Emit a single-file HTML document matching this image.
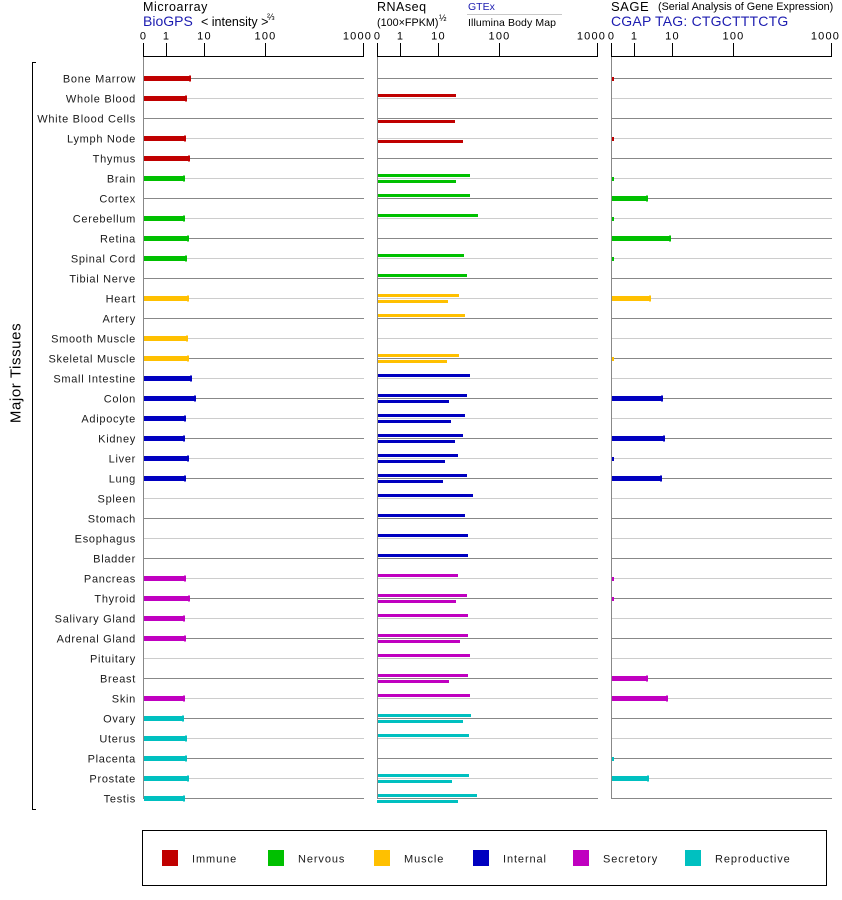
<!DOCTYPE html>
<html><head><meta charset="utf-8"><style>
html,body{margin:0;padding:0;background:#fff;}
svg{display:block;}
text{font-family:"Liberation Sans",Arial,sans-serif;}
.lab{font-size:11px;letter-spacing:0.7px;fill:#1a1a1a;}
.lg{font-size:11px;letter-spacing:0.9px;fill:#1a1a1a;}
.tk{font-size:11px;letter-spacing:1.2px;fill:#000;}
</style></head><body>
<svg width="842" height="900" viewBox="0 0 842 900" xmlns="http://www.w3.org/2000/svg">
<rect width="842" height="900" fill="#fff"/>
<!-- Headers -->
<text x="143" y="11" font-size="12.5" letter-spacing="0.6">Microarray</text>
<text x="143" y="26" font-size="14" fill="#1c1cb0">BioGPS</text>
<text x="201" y="26" font-size="12.5">&lt; intensity &gt;</text>
<text x="267" y="20" font-size="9">⅔</text>

<text x="377" y="11" font-size="12.5" letter-spacing="0.5">RNAseq</text>
<text x="377" y="26" font-size="10.8">(100×FPKM)</text>
<text x="439" y="21" font-size="9">½</text>
<text x="468" y="10" font-size="10.5" fill="#1c1cb0">GTEx</text>
<line x1="467" y1="14.5" x2="562" y2="14.5" stroke="#c8c8c8" stroke-width="1"/>
<text x="468" y="26" font-size="10.5" letter-spacing="0.1">Illumina Body Map</text>

<text x="611" y="11" font-size="13" letter-spacing="0.5">SAGE</text>
<text x="658" y="10" font-size="10.8">(Serial Analysis of Gene Expression)</text>
<text x="611" y="26" font-size="14" fill="#1c1cb0" letter-spacing="0.2">CGAP TAG: CTGCTTTCTG</text>

<!-- Y label and bracket -->
<text transform="translate(20.5,373) rotate(-90)" text-anchor="middle" font-size="15" letter-spacing="0.6">Major Tissues</text>
<path d="M36 62.5 H32.5 V809.5 H36" fill="none" stroke="#000" stroke-width="1"/>

<g id="content"></g>

<!-- Legend -->
<rect x="142.5" y="830.5" width="684" height="55" fill="none" stroke="#000" stroke-width="1"/>
<rect x="162" y="850" width="16" height="16" fill="#c00000"/>
<text x="192" y="862.5" class="lg">Immune</text>
<rect x="268" y="850" width="16" height="16" fill="#00c000"/>
<text x="298" y="862.5" class="lg">Nervous</text>
<rect x="374" y="850" width="16" height="16" fill="#ffc000"/>
<text x="404" y="862.5" class="lg">Muscle</text>
<rect x="473" y="850" width="16" height="16" fill="#0000c0"/>
<text x="503" y="862.5" class="lg">Internal</text>
<rect x="573" y="850" width="16" height="16" fill="#c000c0"/>
<text x="603" y="862.5" class="lg">Secretory</text>
<rect x="685" y="850" width="16" height="16" fill="#00c0c0"/>
<text x="715" y="862.5" class="lg">Reproductive</text>
</svg>
<script>
(function(){
var NS="http://www.w3.org/2000/svg";
var g=document.getElementById("content");
function el(n,a,t){var e=document.createElementNS(NS,n);for(var k in a)e.setAttribute(k,a[k]);if(t!=null)e.textContent=t;g.appendChild(e);return e;}
var names=["Bone Marrow","Whole Blood","White Blood Cells","Lymph Node","Thymus","Brain","Cortex","Cerebellum","Retina","Spinal Cord","Tibial Nerve","Heart","Artery","Smooth Muscle","Skeletal Muscle","Small Intestine","Colon","Adipocyte","Kidney","Liver","Lung","Spleen","Stomach","Esophagus","Bladder","Pancreas","Thyroid","Salivary Gland","Adrenal Gland","Pituitary","Breast","Skin","Ovary","Uterus","Placenta","Prostate","Testis"];
var C={I:"#c00000",N:"#00c000",M:"#ffc000",T:"#0000c0",S:"#c000c0",R:"#00c0c0"};
function col(i){if(i<=4)return C.I;if(i<=10)return C.N;if(i<=14)return C.M;if(i<=24)return C.T;if(i<=31)return C.S;return C.R;}
var micro=[191,187,0,186,190,185,0,185,189,187,0,189,0,188,189,192,196,186,185,189,186,0,0,0,0,186,190,185,186,0,0,185,184,187,187,189,185];
var rnaT=[0,456,0,0,0,470,470,478,0,464,467,459,465,0,459,470,467,465,463,458,467,473,465,468,468,458,467,468,468,470,468,470,471,469,0,469,477];
var rnaB=[0,0,455,463,0,456,0,0,0,0,0,448,0,0,447,0,449,451,455,445,443,0,0,0,0,0,456,0,460,0,449,0,463,0,0,452,459];
var sage={0:1,3:1,5:1,6:648,7:1,8:671,9:1,11:651,14:1,16:663,18:665,19:1,20:662,25:1,26:1,30:648,31:668,34:1,35:649};
var panels=[143,377,611];
var tks=[[0,"0"],[23,"1"],[61,"10"],[122,"100"],[220,"1000"]];
panels.forEach(function(p){
  el("line",{x1:p,y1:56.5,x2:p+221,y2:56.5,stroke:"#000","stroke-width":1});
  tks.forEach(function(t){
    el("line",{x1:p+t[0]+0.5,y1:43,x2:p+t[0]+0.5,y2:57,stroke:"#000","stroke-width":1});
    var cx=p+t[0]+0.5; if(t[1]==="1000")cx-=6;
    el("text",{x:cx,y:39.5,"text-anchor":"middle","class":"tk"},t[1]);
  });
});
for(var i=0;i<37;i++){
  var y=78+20*i;
  var c=(i%2===0)?"#888888":"#cccccc";
  panels.forEach(function(p){
    el("line",{x1:p,y1:y+0.5,x2:p+221,y2:y+0.5,stroke:c,"stroke-width":1});
  });
}
panels.forEach(function(p){
  el("line",{x1:p+0.5,y1:57,x2:p+0.5,y2:799,stroke:"#888888","stroke-width":1});
});
for(var i=0;i<37;i++){
  var y=78+20*i, c=col(i);
  el("text",{x:136,y:y+4.5,"text-anchor":"end","class":"lab"},names[i]);
  if(micro[i]){
    el("rect",{x:144,y:y-2,width:micro[i]-144-1,height:5,fill:c});
    el("rect",{x:micro[i]-2,y:y-2.5,width:2,height:6,fill:c});
  }
  if(rnaT[i])el("rect",{x:378,y:y-4,width:rnaT[i]-378,height:3,fill:c});
  if(rnaB[i])el("rect",{x:(i===36?377:378),y:y+2,width:rnaB[i]-378,height:3,fill:c});
  var s=sage[i];
  if(s===1){el("rect",{x:612,y:y-1,width:2,height:4,fill:c});}
  else if(s){
    el("rect",{x:612,y:y-2,width:s-612-1,height:5,fill:c});
    el("rect",{x:s-2,y:y-2.5,width:2,height:6,fill:c});
  }
}
})();
</script>
</body></html>
